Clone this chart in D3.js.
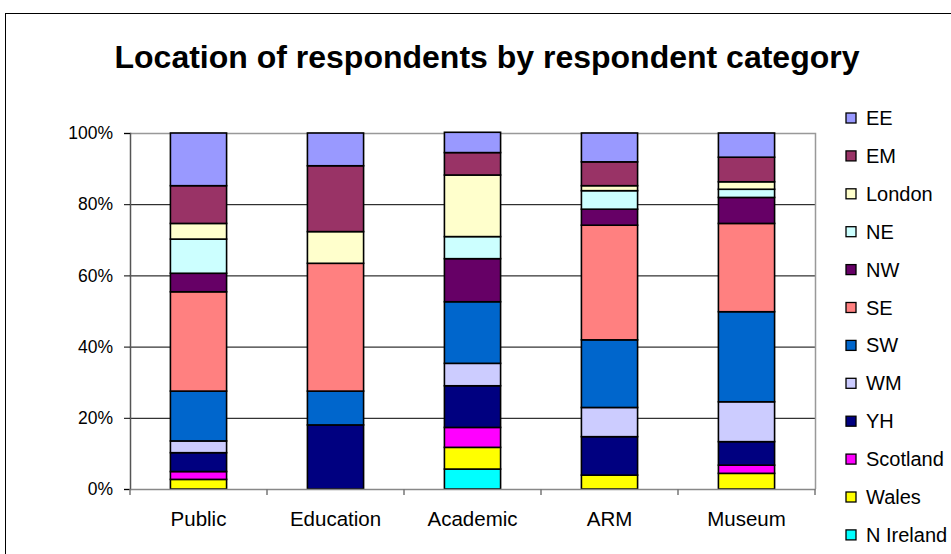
<!DOCTYPE html>
<html>
<head>
<meta charset="utf-8">
<script src="https://cdn.jsdelivr.net/npm/d3@7"></script>
<style>
  html, body { margin: 0; padding: 0; background: #fff; }
  svg { display: block; font-family: "Liberation Sans", Arial, sans-serif; }
</style>
</head>
<body>
<svg id="chart" width="951" height="554"></svg>
<script>
// ---- Data (percent of respondents) ----
const categories = ["Public", "Education", "Academic", "ARM", "Museum"];
// series listed bottom-to-top in stack order
const seriesNames = ["N Ireland", "Wales", "Scotland", "YH", "WM", "SW", "SE", "NW", "NE", "London", "EM", "EE"];
const NIreland = [0,    0,    5.6,  0,    0];
const Wales    = [2.7,  0,    6.1,  3.9,  4.4];
const Scotland = [2.2,  0,    5.6,  0,    2.3];
const YH       = [5.3,  18.0, 11.7, 10.8, 6.6];
const WM       = [3.3,  0,    6.3,  8.2,  11.2];
const SW       = [14.0, 9.5,  17.3, 19.0, 25.3];
const SE       = [27.9, 35.9, 0,    32.2, 24.8];
const NW       = [5.2,  0,    12.1, 4.5,  7.3];
const NE       = [9.6,  0,    6.2,  5.2,  2.3];
const London   = [4.4,  8.9,  17.3, 1.4,  2.1];
const EM       = [10.6, 18.5, 6.3,  6.7,  6.9];
const EE       = [14.8, 9.2,  5.7,  8.1,  6.8];
const yTicks = [0, 20, 40, 60, 80, 100];
const colors = {
  "EE": "#9999FF", "EM": "#993366", "London": "#FFFFCC", "NE": "#CCFFFF",
  "NW": "#660066", "SE": "#FF8080", "SW": "#0066CC", "WM": "#CCCCFF",
  "YH": "#000080", "Scotland": "#FF00FF", "Wales": "#FFFF00", "N Ireland": "#00FFFF"
};
const legendOrder = ["EE", "EM", "London", "NE", "NW", "SE", "SW", "WM", "YH", "Scotland", "Wales", "N Ireland"];

const seriesValues = [NIreland, Wales, Scotland, YH, WM, SW, SE, NW, NE, London, EM, EE];
const rows = categories.map((c, i) => {
  const r = { category: c };
  seriesNames.forEach((s, j) => { r[s] = seriesValues[j][i]; });
  return r;
});

// ---- Layout ----
const svg = d3.select("#chart");
const plot = { left: 130, right: 815, top: 133, bottom: 489 };

// outer frame
svg.append("rect").attr("x", 5.5).attr("y", 13.5).attr("width", 1000).attr("height", 600)
  .attr("fill", "#fff").attr("stroke", "#000").attr("stroke-width", 1);

// title
svg.append("text").attr("x", 487).attr("y", 68).attr("text-anchor", "middle")
  .attr("font-size", 32).attr("font-weight", "bold").attr("fill", "#000")
  .text("Location of respondents by respondent category");

const x = d3.scaleBand().domain(categories).range([plot.left, plot.right])
  .paddingInner(0.59).paddingOuter(0.295);
const y = d3.scaleLinear().domain([0, 100]).range([plot.bottom, plot.top]);

// gridlines
svg.append("g").selectAll("line").data(yTicks.filter(t => t > 0 && t < 100)).join("line")
  .attr("x1", plot.left).attr("x2", plot.right)
  .attr("y1", d => y(d) + 0.5).attr("y2", d => y(d) + 0.5)
  .attr("stroke", "#000").attr("stroke-width", 1);
// plot frame top/right (grey)
svg.append("path")
  .attr("d", `M${plot.left},${y(100) + 0.5}H${plot.right + 0.5}V${plot.bottom}`)
  .attr("fill", "none").attr("stroke", "#999").attr("stroke-width", 1.5);

// stacks
const stack = d3.stack().keys(seriesNames)(rows);
svg.append("g").selectAll("g").data(stack).join("g")
  .attr("fill", d => colors[d.key])
  .selectAll("rect").data(d => d.filter(p => p[1] - p[0] > 0)).join("rect")
  .attr("x", d => x(d.data.category))
  .attr("width", x.bandwidth())
  .attr("y", d => y(d[1]))
  .attr("height", d => y(d[0]) - y(d[1]))
  .attr("stroke", "#000").attr("stroke-width", 1.6);

// y axis
const yAxis = d3.axisLeft(y).tickValues(yTicks).tickFormat(d => d + "%").tickSize(6).tickPadding(11);
const gy = svg.append("g").attr("transform", `translate(${plot.left},0)`).call(yAxis);
gy.select(".domain").attr("stroke", "#555").attr("stroke-width", 1.5);
gy.selectAll(".tick line").attr("stroke", "#000");
gy.selectAll("text").attr("font-size", 17.5).attr("fill", "#000")
  .attr("font-family", "Liberation Sans, Arial, sans-serif");

// x axis
const xAxis = d3.axisBottom(x).tickSize(0).tickPadding(22);
const gx = svg.append("g").attr("transform", `translate(0,${plot.bottom})`).call(xAxis);
gx.select(".domain").attr("stroke", "#888").attr("stroke-width", 1.5);
gx.selectAll("text").attr("font-size", 20.5).attr("fill", "#000")
  .attr("font-family", "Liberation Sans, Arial, sans-serif");
// category boundary tick marks
const bounds = categories.map(c => x(c) - x.step() * x.paddingInner() / 2).concat([plot.right]);
gx.append("g").selectAll("line").data(bounds).join("line")
  .attr("x1", d => d).attr("x2", d => d).attr("y1", 0).attr("y2", 6)
  .attr("stroke", "#777").attr("stroke-width", 1.5);

// legend
const lg = svg.append("g").selectAll("g").data(legendOrder).join("g")
  .attr("transform", (d, i) => `translate(846,${118 + i * 37.9})`);
lg.append("rect").attr("x", 0).attr("y", -5).attr("width", 10).attr("height", 10)
  .attr("fill", d => colors[d]).attr("stroke", "#000").attr("stroke-width", 1.3);
lg.append("text").attr("x", 20).attr("y", 7).attr("font-size", 20).attr("fill", "#000")
  .text(d => d);
</script>
</body>
</html>
